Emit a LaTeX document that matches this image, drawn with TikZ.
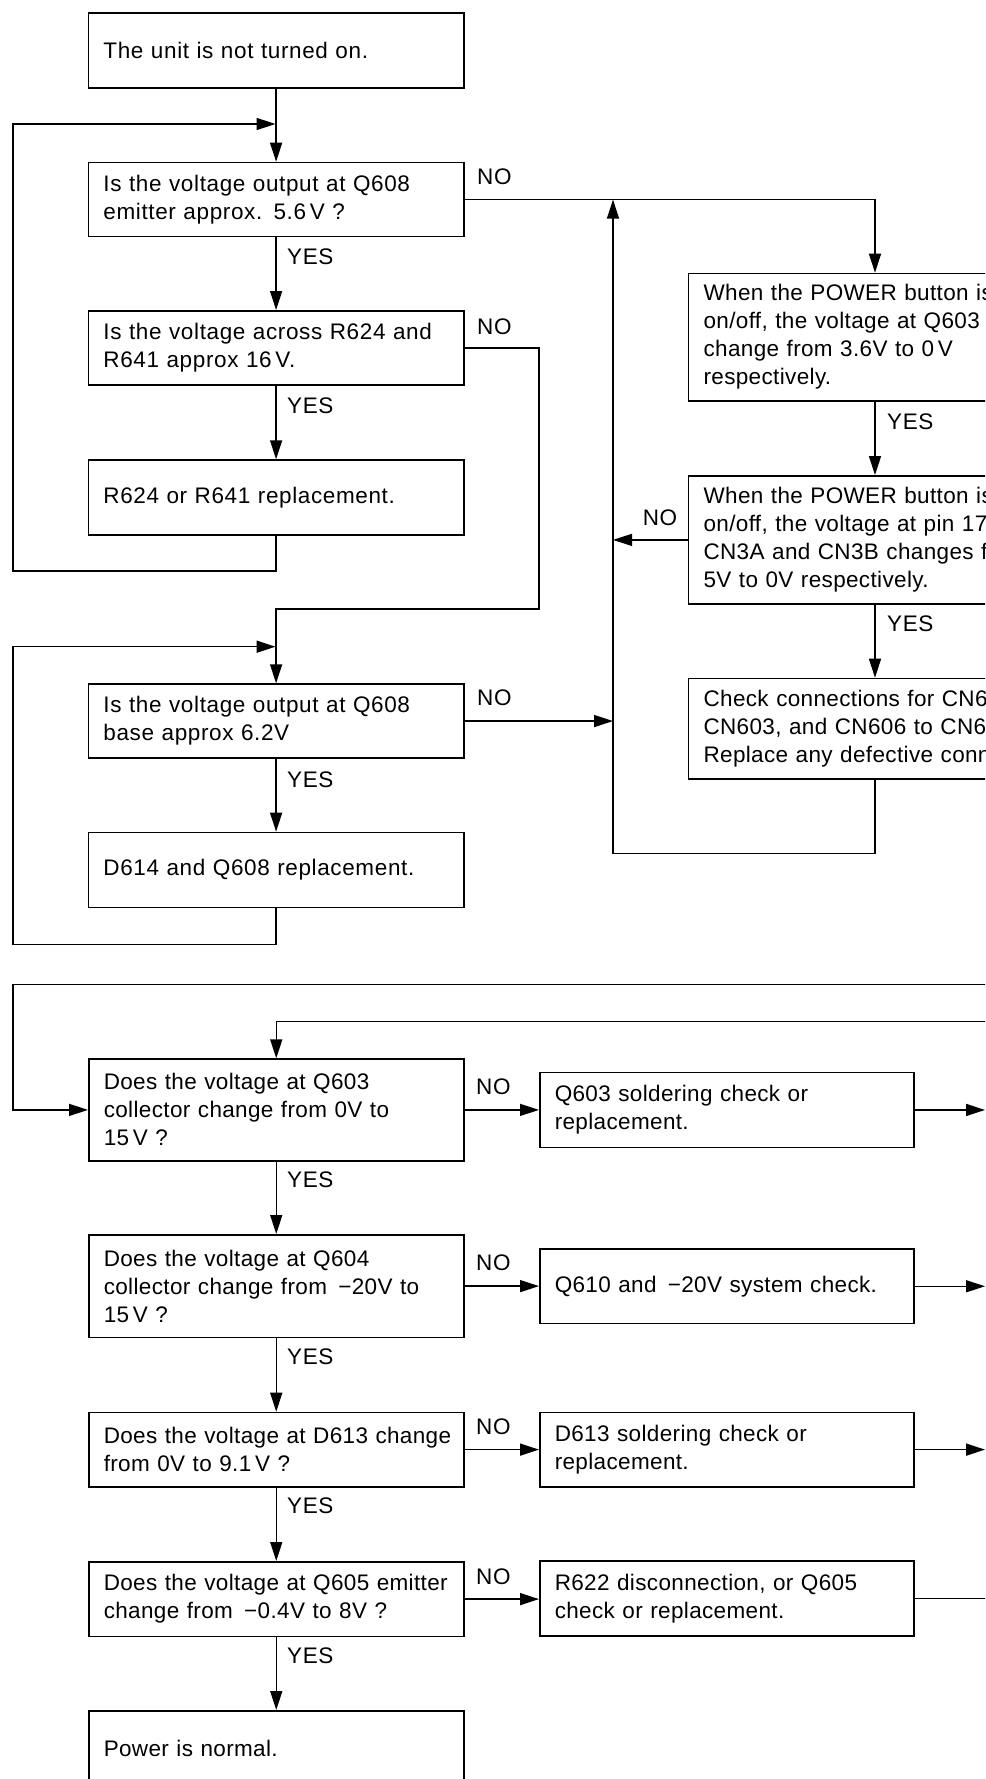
\documentclass[tikz,border=0pt]{standalone}
\usepackage{fontspec}
\setmainfont{Liberation Sans}[LetterSpace=2.8]
\newfontfamily\lowerfont{Liberation Sans}[LetterSpace=1.6]
\usetikzlibrary{arrows.meta,calc}
\begin{document}
\begin{tikzpicture}[x=1pt,y=-1pt,
  txt/.style={font=\fontsize{22.5}{28}\selectfont},
  txtb/.style={font=\lowerfont\fontsize{22.5}{28}\selectfont},
  box/.style={txt, draw, line width=1.5pt, rectangle, inner xsep=15pt, inner ysep=0pt,
              align=left, anchor=north west},
  boxb/.style={box, txtb},
  lbl/.style={txt, inner sep=0pt, anchor=west},
  conn/.style={line width=1.5pt},
  arr/.style={conn, -{Triangle[length=19pt,width=12pt]}}
]
\useasboundingbox[fill=white] (0,0) rectangle (985,1779);
\clip (0,0) rectangle (985,1779);

% ---------- upper part ----------
\node[box, text width=345.3pt, minimum height=75pt] (b1) at (87.7,12.3) {The unit is not turned on.};
\node[box, text width=345.3pt, minimum height=74.3pt] (b2) at (87.7,161.7) {Is the voltage output at Q608\\emitter approx. 5.6\,V ?};
\node[box, text width=345.3pt, minimum height=74.3pt] (b3) at (87.7,310) {Is the voltage across R624 and\\R641 approx 16\,V.};
\node[box, text width=345.3pt, minimum height=75pt] (b4) at (87.7,459.3) {R624 or R641 replacement.};
\node[box, text width=345.3pt, minimum height=74pt] (b5) at (87.7,683.3) {Is the voltage output at Q608\\base approx 6.2V};
\node[box, text width=345.3pt, minimum height=75pt] (b6) at (87.7,831.7) {D614 and Q608 replacement.};

\node[boxb, text width=370pt, minimum height=127.3pt] (r1) at (687.8,272.7) {When the POWER button is\\on/off, the voltage at Q603\\change from 3.6V to 0\,V\\respectively.};
\node[boxb, text width=370pt, minimum height=128.3pt] (r2) at (687.8,475) {When the POWER button is\\on/off, the voltage at pin 17\\CN3A and CN3B changes f\\5V to 0V respectively.};
\node[boxb, text width=370pt, minimum height=100.6pt] (r3) at (687.8,677.7) {Check connections for CN6\\CN603, and CN606 to CN61\\Replace any defective conn};

\coordinate (rx) at (875,0);
\coordinate (vx) at (613,0);
\coordinate (L1) at (13,571);
\coordinate (J1) at (275.5,124);
\coordinate (L2) at (13,944.3);
\coordinate (J2) at (275.5,646.7);
\coordinate (K1) at (539,609);
\coordinate (L3) at (613,853.3);

\draw[arr] (b1.south) -- (b2.north);
\draw[arr] (b4.south) |- (L1) |- (J1);
\draw[arr] (b2.east) -| (r1.north -| rx);
\draw[arr] (b2.south) -- (b3.north);
\draw[arr] (b3.east) -| (K1) -| (b5.north);
\draw[arr] (b3.south) -- (b4.north);
\draw[arr] (b6.south) |- (L2) |- (J2);
\draw[arr] (b5.south) -- (b6.north);
\draw[arr] (b5.east) -- (b5.east -| vx);
\draw[arr] (r1.south -| rx) -- (r2.north -| rx);
\draw[arr] (r2.south -| rx) -- (r3.north -| rx);
\draw[arr] (r2.west) -- (r2.west -| vx);
\draw[arr] (r3.south -| rx) |- (L3) -- (b2.east -| L3);

\node[lbl] (n1) at (477,177) {NO};
\node[lbl] (n2) at (477,326.7) {NO};
\node[lbl] (n3) at (477,698) {NO};
\node[txt, inner sep=0pt] (n4) at (660,518) {NO};
\node[lbl] (y1) at (287,257) {YES};
\node[lbl] (y2) at (287,406) {YES};
\node[lbl] (y3) at (287,780) {YES};
\node[lbl] (y4) at (887,421.7) {YES};
\node[lbl] (y5) at (887,624) {YES};

% ---------- lower part ----------
\node[boxb, text width=345pt, minimum height=101.7pt] (c1) at (88,1058.3) {Does the voltage at Q603\\collector change from 0V to\\15\,V ?};
\node[boxb, text width=344pt, minimum height=75pt] (d1) at (539,1071.7) {Q603 soldering check or\\replacement.};
\node[boxb, text width=345pt, minimum height=102.7pt] (c2) at (88,1234) {Does the voltage at Q604\\\mbox{collector change from \,−20V to}\\15\,V ?};
\node[boxb, text width=344pt, minimum height=74.4pt] (d2) at (539,1248.3) {Q610 and \,−20V system check.};
\node[boxb, text width=345pt, minimum height=74.3pt] (c3) at (88,1411.7) {\mbox{Does the voltage at D613 change}\\from 0V to 9.1\,V ?};
\node[boxb, text width=344pt, minimum height=74.3pt] (d3) at (539,1411.7) {D613 soldering check or\\replacement.};
\node[boxb, text width=345pt, minimum height=74.7pt] (c4) at (88,1561) {\mbox{Does the voltage at Q605 emitter}\\change from \,−0.4V to 8V ?};
\node[boxb, text width=344pt, minimum height=75pt] (d4) at (539,1560) {R622 disconnection, or Q605\\check or replacement.};
\node[boxb, text width=345pt, minimum height=76pt] (c5) at (88,1710) {Power is normal.};

\coordinate (E1) at (990,984.3);
\coordinate (E2) at (990,1021.7);
\coordinate (L4) at (13,0);
\coordinate (ex) at (985,0);
\coordinate (ex2) at (990,0);

\draw[arr] (E1) -| (c1.west -| L4) -- (c1.west);
\draw[arr] (E2) -| (c1.north);
\draw[arr] (c1.east) -- (c1.east -| d1.west);
\draw[arr] (d1.east) -- (d1.east -| ex);
\draw[arr] (c1.south) -- (c2.north);
\draw[arr] (c2.east) -- (c2.east -| d2.west);
\draw[arr] (d2.east) -- (d2.east -| ex);
\draw[arr] (c2.south) -- (c3.north);
\draw[arr] (c3.east) -- (c3.east -| d3.west);
\draw[arr] (d3.east) -- (d3.east -| ex);
\draw[arr] (c3.south) -- (c4.north);
\draw[arr] (c4.east) -- (c4.east -| d4.west);
\draw[conn] (d4.east) -- (d4.east -| ex2);
\draw[arr] (c4.south) -- (c5.north);

\node[lbl] (n5) at (476,1086.7) {NO};
\node[lbl] (n6) at (476,1263) {NO};
\node[lbl] (n7) at (476,1426.7) {NO};
\node[lbl] (n8) at (476,1576.7) {NO};
\node[lbl] (y6) at (287,1180) {YES};
\node[lbl] (y7) at (287,1356.7) {YES};
\node[lbl] (y8) at (287,1506) {YES};
\node[lbl] (y9) at (287,1656) {YES};
\end{tikzpicture}
\end{document}
